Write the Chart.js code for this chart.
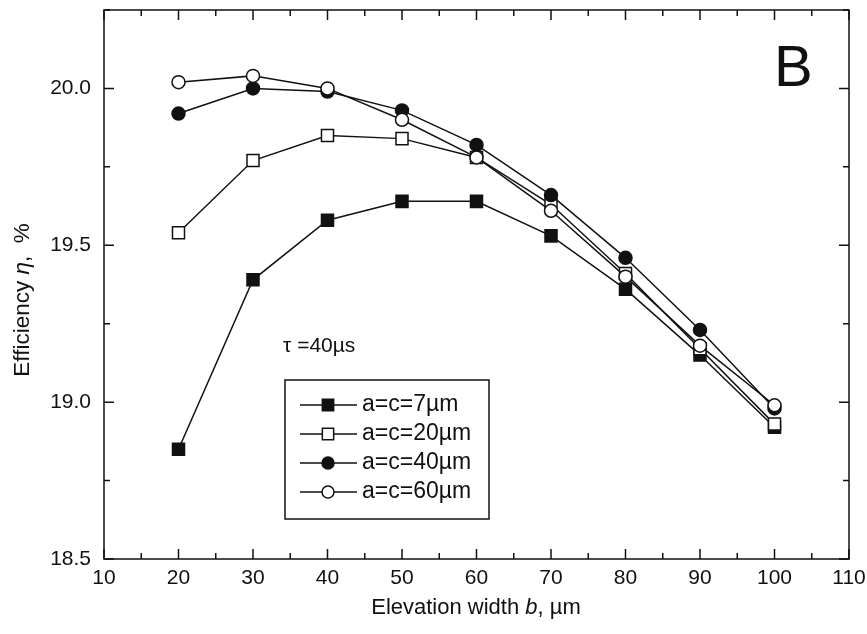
<!DOCTYPE html>
<html>
<head>
<meta charset="utf-8">
<title>Efficiency vs elevation width</title>
<script src="https://cdn.jsdelivr.net/npm/chart.js@4.4.1/dist/chart.umd.min.js"></script>
<style>
  html, body { margin: 0; padding: 0; background: #fff; }
  canvas { display: block; }
</style>
</head>
<body>
<canvas id="effChart" width="867" height="634"></canvas>
<script>
// elevation width b, um
const widthB = [20, 30, 40, 50, 60, 70, 80, 90, 100];

// efficiency eta, % for each a=c
const eff7  = [18.85, 19.39, 19.58, 19.64, 19.64, 19.53, 19.36, 19.15, 18.92];
const eff20 = [19.54, 19.77, 19.85, 19.84, 19.78, 19.63, 19.41, 19.17, 18.93];
const eff40 = [19.92, 20.00, 19.99, 19.93, 19.82, 19.66, 19.46, 19.23, 18.98];
const eff60 = [20.02, 20.04, 20.00, 19.90, 19.78, 19.61, 19.40, 19.18, 18.99];

const seriesLabels = ['a=c=7\u00b5m', 'a=c=20\u00b5m', 'a=c=40\u00b5m', 'a=c=60\u00b5m'];

const xTicks = [10, 20, 30, 40, 50, 60, 70, 80, 90, 100, 110];
const yTicks = [18.5, 19.0, 19.5, 20.0];

const FONT = '"Liberation Sans", Arial, sans-serif';
const INK = '#111';

function makeSet(label, values, style, filled, order) {
  return {
    label,
    data: widthB.map((b, i) => ({ x: b, y: values[i] })),
    borderColor: INK,
    borderWidth: 1.5,
    pointStyle: style,
    pointRadius: style === 'rect' ? 8.5 : 6.5,
    pointBorderWidth: 1.5,
    pointBorderColor: INK,
    pointBackgroundColor: filled ? INK : '#fff',
    order
  };
}

// frame + inward ticks on all four sides
const framePlugin = {
  id: 'frame',
  beforeDatasetsDraw(chart) {
    const { ctx, chartArea: a, scales: { x, y } } = chart;
    ctx.save();
    ctx.strokeStyle = INK;
    ctx.lineWidth = 1.5;
    ctx.strokeRect(a.left, a.top, a.right - a.left, a.bottom - a.top);
    ctx.beginPath();
    for (let v = x.min; v <= x.max + 1e-9; v += 5) {
      const px = x.getPixelForValue(v);
      const len = v % 10 === 0 ? 10 : 6;
      ctx.moveTo(px, a.bottom); ctx.lineTo(px, a.bottom - len);
      ctx.moveTo(px, a.top);    ctx.lineTo(px, a.top + len);
    }
    for (let v = y.min; v <= y.max + 1e-9; v += 0.25) {
      const py = y.getPixelForValue(v);
      const len = Math.abs(v * 2 - Math.round(v * 2)) < 1e-6 ? 10 : 6;
      ctx.moveTo(a.left, py);  ctx.lineTo(a.left + len, py);
      ctx.moveTo(a.right, py); ctx.lineTo(a.right - len, py);
    }
    ctx.stroke();
    ctx.restore();
  }
};

function drawMarker(ctx, ds, cx, cy) {
  ctx.beginPath();
  if (ds.pointStyle === 'rect') {
    const h = ds.pointRadius * Math.SQRT1_2;
    ctx.rect(cx - h, cy - h, 2 * h, 2 * h);
  } else {
    ctx.arc(cx, cy, ds.pointRadius, 0, Math.PI * 2);
  }
  ctx.fillStyle = ds.pointBackgroundColor;
  ctx.fill();
  ctx.lineWidth = ds.pointBorderWidth;
  ctx.strokeStyle = ds.pointBorderColor;
  ctx.stroke();
}

// text run with mixed upright / italic pieces
function drawRuns(ctx, runs, size, x, y) {
  const widths = runs.map(r => {
    ctx.font = (r.italic ? 'italic ' : '') + size + 'px ' + FONT;
    return ctx.measureText(r.text).width;
  });
  let cx = x - widths.reduce((s, w) => s + w, 0) / 2;
  runs.forEach((r, i) => {
    ctx.font = (r.italic ? 'italic ' : '') + size + 'px ' + FONT;
    ctx.fillText(r.text, cx, y);
    cx += widths[i];
  });
}

const notesPlugin = {
  id: 'notes',
  afterDatasetsDraw(chart) {
    const { ctx } = chart;
    ctx.save();
    ctx.fillStyle = INK;
    ctx.textBaseline = 'middle';
    ctx.textAlign = 'left';

    // axis titles
    drawRuns(ctx, [{ text: 'Elevation width ' }, { text: 'b', italic: true }, { text: ', \u00b5m' }], 22, 476, 608);
    ctx.save();
    ctx.translate(23, 300);
    ctx.rotate(-Math.PI / 2);
    drawRuns(ctx, [{ text: 'Efficiency ' }, { text: '\u03b7', italic: true }, { text: ',  %' }], 22.5, 0, 0);
    ctx.restore();

    // panel letter and lifetime note
    ctx.font = '58px ' + FONT;
    ctx.fillText('B', 774, 70);
    ctx.font = '21px ' + FONT;
    ctx.fillText('\u03c4 =40\u00b5s', 283, 346);

    // legend box
    ctx.strokeStyle = INK;
    ctx.lineWidth = 1.5;
    ctx.strokeRect(285, 380, 204, 139);
    const rows = [405, 434, 463, 492];
    chart.data.datasets.forEach((ds, i) => {
      const ry = rows[i];
      ctx.beginPath();
      ctx.moveTo(300, ry); ctx.lineTo(357, ry);
      ctx.lineWidth = 1.5;
      ctx.strokeStyle = INK;
      ctx.stroke();
      drawMarker(ctx, { ...ds, pointRadius: ds.pointStyle === 'rect' ? 8 : 6 }, 328, ry);
      ctx.fillStyle = INK;
      ctx.font = '23px ' + FONT;
      ctx.fillText(ds.label, 362, ry);
    });
    ctx.restore();
  }
};

new Chart(document.getElementById('effChart'), {
  type: 'line',
  data: {
    datasets: [
      makeSet(seriesLabels[0], eff7,  'rect',   true,  3),
      makeSet(seriesLabels[1], eff20, 'rect',   false, 2),
      makeSet(seriesLabels[2], eff40, 'circle', true,  1),
      makeSet(seriesLabels[3], eff60, 'circle', false, 0)
    ]
  },
  options: {
    responsive: false,
    animation: false,
    layout: { padding: { top: 10, right: 18, left: 0, bottom: 0 } },
    plugins: { legend: { display: false }, tooltip: { enabled: false } },
    elements: { line: { tension: 0 } },
    scales: {
      x: {
        type: 'linear',
        min: 10,
        max: 110,
        afterBuildTicks: s => { s.ticks = xTicks.map(v => ({ value: v })); },
        afterFit: s => { s.height = 75; s.paddingLeft = 0; s.paddingRight = 0; },
        grid: { display: false, drawTicks: false },
        border: { display: false },
        ticks: { color: INK, font: { family: FONT, size: 21 }, padding: 7, maxRotation: 0 }
      },
      y: {
        min: 18.5,
        max: 20.25,
        afterBuildTicks: s => { s.ticks = yTicks.map(v => ({ value: v })); },
        afterFit: s => { s.width = 104; s.paddingTop = 0; s.paddingBottom = 0; },
        grid: { display: false, drawTicks: false },
        border: { display: false },
        ticks: { color: INK, font: { family: FONT, size: 21 }, padding: 13, callback: v => v.toFixed(1) }
      }
    }
  },
  plugins: [framePlugin, notesPlugin]
});
</script>
</body>
</html>
